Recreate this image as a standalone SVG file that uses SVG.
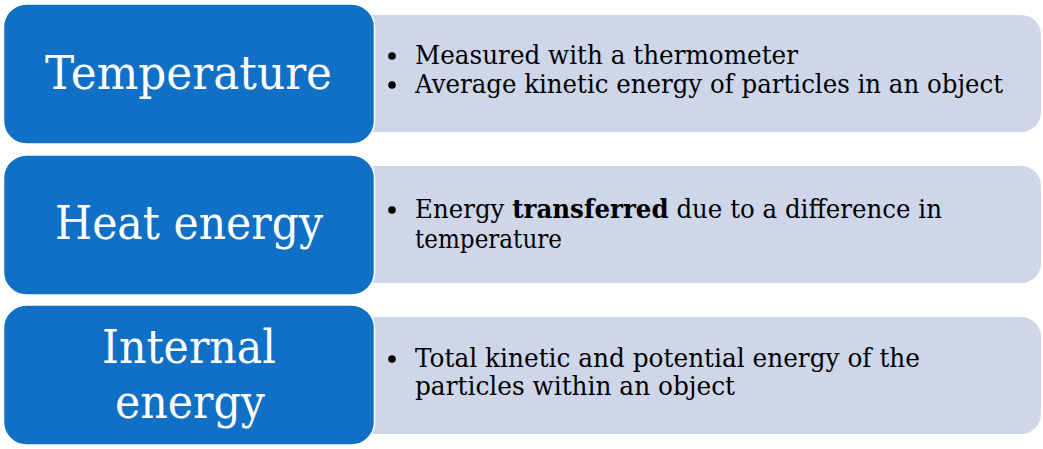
<svg xmlns="http://www.w3.org/2000/svg" width="1043" height="449" viewBox="0 0 1043 449">
<style>
.detail{fill:#CED6E9;}
.head{fill:#1070C6;stroke:#ffffff;stroke-width:1.5;}
.title{font-family:"DejaVu Serif","Liberation Serif",serif;font-size:46px;fill:#ffffff;text-anchor:start;}
.body{font-family:"DejaVu Serif","Liberation Serif",serif;font-size:26px;fill:#000000;}
.b{font-weight:bold;}
.dot{fill:#000000;}
</style>
<rect width="1043" height="449" fill="#ffffff"/>
<g id="connectors"/>
<g id="temperature">
<rect class="detail" x="340" y="15" width="701" height="117" rx="20" ry="20"/>
<rect class="head" x="3.5" y="4" width="371" height="140" rx="23" ry="23"/>
<text class="title" x="45" y="89" textLength="287" lengthAdjust="spacingAndGlyphs">Temperature</text>
<circle class="dot" cx="392" cy="56" r="3.8"/>
<text class="body" x="415" y="64" textLength="383" lengthAdjust="spacingAndGlyphs">Measured with a thermometer</text>
<circle class="dot" cx="392" cy="85" r="3.8"/>
<text class="body" x="415" y="93" textLength="588" lengthAdjust="spacingAndGlyphs">Average kinetic energy of particles in an object</text>
</g>
<g id="heat-energy">
<rect class="detail" x="340" y="166" width="701" height="117" rx="20" ry="20"/>
<rect class="head" x="3.5" y="155" width="371" height="140" rx="23" ry="23"/>
<text class="title" x="55" y="239" textLength="268" lengthAdjust="spacingAndGlyphs">Heat energy</text>
<circle class="dot" cx="392" cy="210" r="3.8"/>
<text class="body" x="415" y="218" textLength="527" lengthAdjust="spacingAndGlyphs">Energy <tspan class="b">transferred</tspan> due to a difference in</text>
<text class="body" x="415" y="248" textLength="147" lengthAdjust="spacingAndGlyphs">temperature</text>
</g>
<g id="internal-energy">
<rect class="detail" x="340" y="317" width="701" height="117" rx="20" ry="20"/>
<rect class="head" x="3.5" y="305" width="371" height="140" rx="23" ry="23"/>
<text class="title" x="102" y="363" textLength="174" lengthAdjust="spacingAndGlyphs">Internal</text>
<text class="title" x="115" y="418" textLength="150" lengthAdjust="spacingAndGlyphs">energy</text>
<circle class="dot" cx="392" cy="359" r="3.8"/>
<text class="body" x="415" y="367" textLength="505" lengthAdjust="spacingAndGlyphs">Total kinetic and potential energy of the</text>
<text class="body" x="415" y="395" textLength="320" lengthAdjust="spacingAndGlyphs">particles within an object</text>
</g>
</svg>
